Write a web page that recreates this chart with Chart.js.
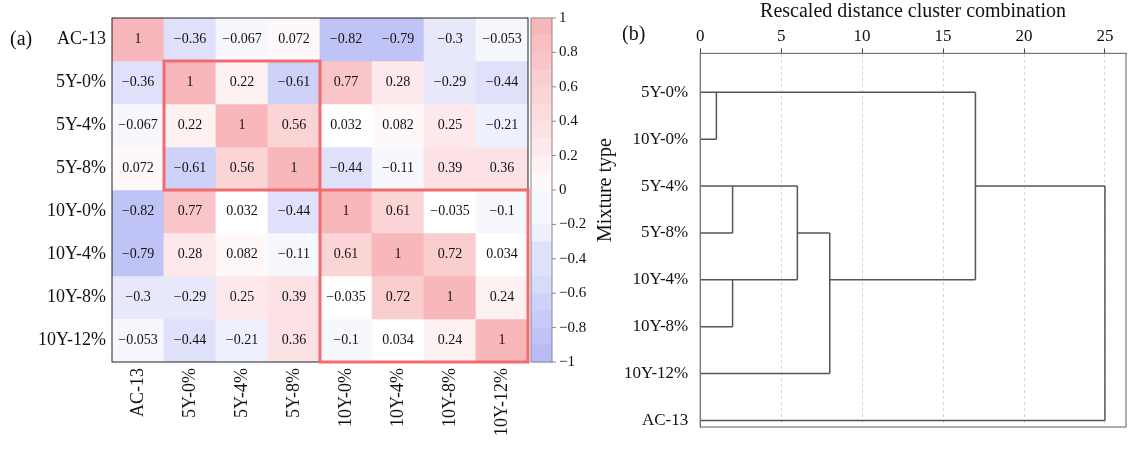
<!DOCTYPE html>
<html><head><meta charset="utf-8">
<script src="https://cdn.jsdelivr.net/npm/chart.js@4.4.0/dist/chart.umd.min.js"></script>
<style>
body{margin:0;background:#fff;width:1136px;height:457px;position:relative;overflow:hidden}
</style></head><body>
<div id="w1" style="position:absolute;left:0;top:0;width:620px;height:457px"><canvas id="c1"></canvas></div>
<div id="w2" style="position:absolute;left:620px;top:0;width:516px;height:457px"><canvas id="c2"></canvas></div>
<script>
// Matriz de correlação entre os tipos de mistura
var nomes = ['AC-13','5Y-0%','5Y-4%','5Y-8%','10Y-0%','10Y-4%','10Y-8%','10Y-12%'];
var corr = [
	[1,-0.36,-0.067,0.072,-0.82,-0.79,-0.3,-0.053],
	[-0.36,1,0.22,-0.61,0.77,0.28,-0.29,-0.44],
	[-0.067,0.22,1,0.56,0.032,0.082,0.25,-0.21],
	[0.072,-0.61,0.56,1,-0.44,-0.11,0.39,0.36],
	[-0.82,0.77,0.032,-0.44,1,0.61,-0.035,-0.1],
	[-0.79,0.28,0.082,-0.11,0.61,1,0.72,0.034],
	[-0.3,-0.29,0.25,0.39,-0.035,0.72,1,0.24],
	[-0.053,-0.44,-0.21,0.36,-0.1,0.034,0.24,1]
];
var serif = '"Liberation Serif", "DejaVu Serif", serif';

function cor(v) {
	var s = Math.round(v * 10) / 10;
	var a = Math.min(Math.abs(s), 1);
	var r, g, b;
	if (s >= 0) { r = 255 - 7*a; g = 255 - 72*a; b = 255 - 68*a; }
	else { r = 255 - 80*a; g = 255 - 75*a; b = 255 - 12*a; }
	return 'rgb(' + Math.round(r) + ',' + Math.round(g) + ',' + Math.round(b) + ')';
}

var datasets = corr.map(function (linha, i) {
	return {
		data: linha.map(function () { return [7 - i, 8 - i]; }),
		backgroundColor: linha.map(cor),
		borderWidth: 0,
		grouped: false,
		barPercentage: 1,
		categoryPercentage: 1
	};
});

var heatPlugin = {
	id: 'heat',
	afterDatasetsDraw: function (chart) {
		var ctx = chart.ctx, a = chart.chartArea;
		var x = chart.scales.x, y = chart.scales.y;
		var cw = (a.right - a.left) / 8;
		ctx.save();
		// valores nas células
		ctx.fillStyle = '#111';
		ctx.font = '14px ' + serif;
		ctx.textAlign = 'center'; ctx.textBaseline = 'middle';
		corr.forEach(function (linha, i) {
			linha.forEach(function (v, j) {
				var t = String(v).replace('-', '\u2212');
				ctx.fillText(t, x.getPixelForValue(j), y.getPixelForValue(7.5 - i));
			});
		});
		// rótulos
		ctx.font = '18px ' + serif;
		ctx.textAlign = 'right';
		nomes.forEach(function (n, i) { ctx.fillText(n, a.left - 6, y.getPixelForValue(7.5 - i)); });
		nomes.forEach(function (n, j) {
			ctx.save();
			ctx.translate(x.getPixelForValue(j), a.bottom + 6);
			ctx.rotate(-Math.PI / 2);
			ctx.fillText(n, 0, 0);
			ctx.restore();
		});
		ctx.textAlign = 'left';
		ctx.font = '20px ' + serif;
		ctx.fillText('(a)', 10, 40);
		// borda
		ctx.strokeStyle = '#222'; ctx.lineWidth = 1;
		ctx.strokeRect(a.left, a.top, a.right - a.left, a.bottom - a.top);
		// caixas vermelhas
		ctx.strokeStyle = '#f26b6e'; ctx.lineWidth = 3;
		function caixa(c0, c1, r0, r1) {
			var x0 = a.left + c0 * cw, x1 = a.left + (c1 + 1) * cw;
			var y0 = y.getPixelForValue(8 - r0), y1 = y.getPixelForValue(7 - r1);
			ctx.strokeRect(x0, y0, x1 - x0, y1 - y0);
		}
		caixa(1, 3, 1, 3);
		caixa(4, 7, 4, 7);
		// barra de cores
		var bx = a.right + 3, bw = 21, top = a.top, bot = a.bottom;
		var n = 20, h = (bot - top) / n;
		for (var k = 0; k < n; k++) {
			var v = 1 - (k + 0.5) * 2 / n;
			ctx.fillStyle = cor(v);
			ctx.fillRect(bx, top + k * h, bw, h + 0.5);
		}
		ctx.strokeStyle = '#888'; ctx.lineWidth = 1;
		ctx.strokeRect(bx, top, bw, bot - top);
		ctx.fillStyle = '#111'; ctx.font = '15px ' + serif;
		ctx.textBaseline = 'middle'; ctx.textAlign = 'left';
		for (var t = 0; t <= 10; t++) {
			var val = 1 - t * 0.2;
			var py = top + t * (bot - top) / 10;
			ctx.beginPath(); ctx.moveTo(bx + bw, py); ctx.lineTo(bx + bw + 4, py); ctx.stroke();
			var lab = Math.abs(val) < 1e-9 ? '0' : String(Math.round(val * 10) / 10).replace('-', '\u2212');
			ctx.fillText(lab, bx + bw + 7, py);
		}
		ctx.save();
		ctx.translate(606, 190);
		ctx.rotate(-Math.PI / 2);
		ctx.textAlign = 'center';
		ctx.font = '20px ' + serif;
		ctx.fillText('Mixture type', 0, 0);
		ctx.restore();
		ctx.restore();
	}
};

new Chart(document.getElementById('c1'), {
	type: 'bar',
	data: { labels: nomes, datasets: datasets },
	options: {
		responsive: true, maintainAspectRatio: false, animation: false,
		layout: { padding: { left: 112, right: 92, top: 18, bottom: 95 } },
		plugins: { legend: { display: false }, tooltip: { enabled: false } },
		scales: {
			x: { display: false },
			y: { display: false, min: 0, max: 8 }
		}
	},
	plugins: [heatPlugin]
});

// Dendrograma (ordem das folhas e distâncias de fusão)
var folhas = ['5Y-0%','10Y-0%','5Y-4%','5Y-8%','10Y-4%','10Y-8%','10Y-12%','AC-13'];
var segmentos = [
	[[0,0],[17,0]], [[0,1],[1,1]], [[1,0],[1,1]],
	[[0,2],[2,2]], [[0,3],[2,3]], [[2,2],[2,3]], [[2,2],[6,2]],
	[[0,4],[2,4]], [[0,5],[2,5]], [[2,4],[2,5]], [[2,4],[6,4]],
	[[6,2],[6,4]], [[6,3],[8,3]], [[0,6],[8,6]], [[8,3],[8,6]],
	[[8,4],[17,4]], [[17,0],[17,4]], [[17,2],[25,2]],
	[[0,7],[25,7]], [[25,2],[25,7]]
];
var linhas = segmentos.map(function (s) {
	return {
		data: [{x: s[0][0], y: s[0][1]}, {x: s[1][0], y: s[1][1]}],
		borderColor: '#555', borderWidth: 1.5, pointRadius: 0, tension: 0
	};
});

var boxPlugin = {
	id: 'box',
	afterDraw: function (chart) {
		var ctx = chart.ctx, a = chart.chartArea;
		ctx.save();
		ctx.strokeStyle = '#777'; ctx.lineWidth = 1.2;
		ctx.strokeRect(a.left, a.top, a.right - a.left, a.bottom - a.top);
		ctx.fillStyle = '#111'; ctx.font = '20px ' + serif;
		ctx.fillText('(b)', 2, 40);
		ctx.restore();
	}
};

new Chart(document.getElementById('c2'), {
	type: 'scatter',
	data: { datasets: linhas },
	options: {
		responsive: true, maintainAspectRatio: false, animation: false,
		showLine: true,
		layout: { padding: { right: 10, bottom: 30 } },
		plugins: { legend: { display: false }, tooltip: { enabled: false } },
		scales: {
			x: {
				type: 'linear', position: 'top', min: 0, max: 26.3,
				afterBuildTicks: function (s) { s.ticks = [0,5,10,15,20,25].map(function (v) { return {value: v}; }); },
				ticks: { color: '#111', font: { family: serif, size: 17 }, padding: 2 },
				grid: { color: '#d4d4d4', tickLength: 5, tickColor: '#444' },
				border: { display: true, color: '#444', dash: [3, 3] },
				title: { display: true, text: 'Rescaled distance cluster combination', color: '#111', font: { family: serif, size: 20 }, padding: { top: 0, bottom: 0 } }
			},
			y: {
				type: 'linear', reverse: true, min: -0.83, max: 7.14,
				afterBuildTicks: function (s) { s.ticks = folhas.map(function (n, i) { return {value: i}; }); },
				ticks: { color: '#111', font: { family: serif, size: 17 }, callback: function (v) { return folhas[v]; }, padding: 4 },
				grid: { display: false },
				border: { color: '#777' }
			}
		}
	},
	plugins: [boxPlugin]
});
</script>
</body></html>
